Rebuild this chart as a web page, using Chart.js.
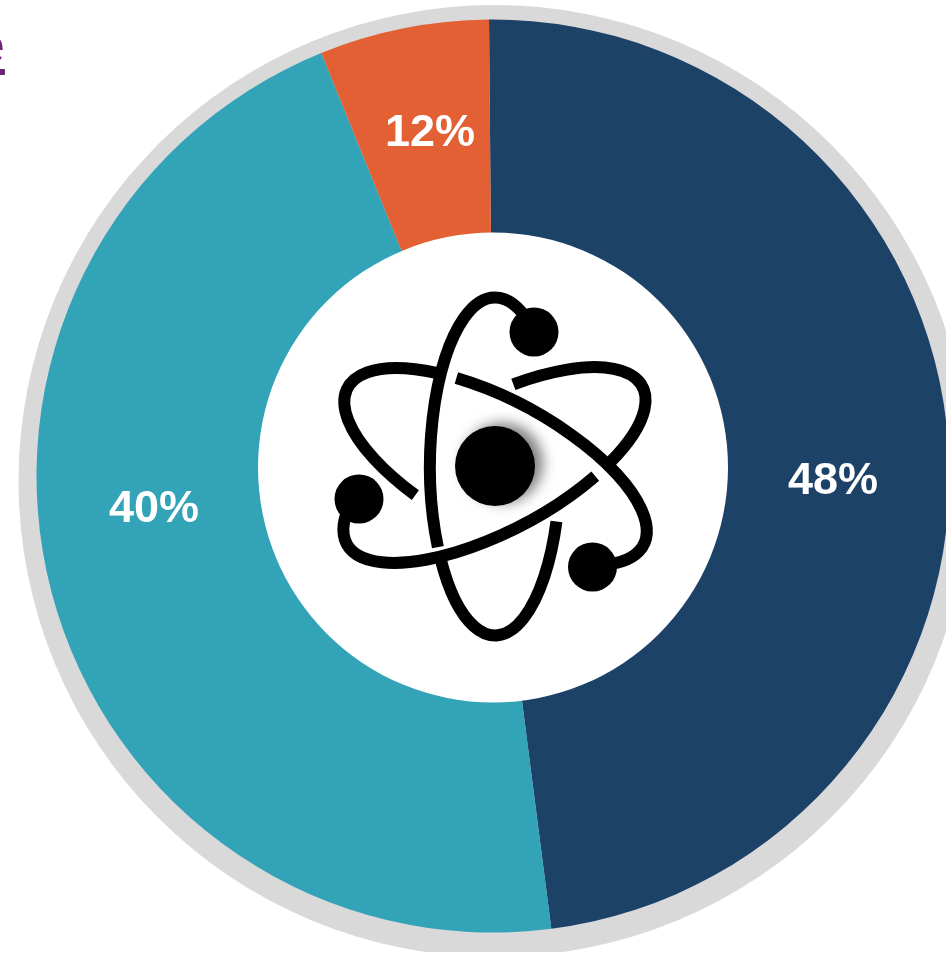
<!DOCTYPE html>
<html>
<head>
<meta charset="utf-8">
<style>
html,body{margin:0;padding:0;background:#fff;overflow:hidden}
#wrap{position:relative;width:946px;height:953px;overflow:hidden}
#c{position:absolute;left:0;top:0}
#cut{position:absolute;left:-24px;top:9px;font:52px "Liberation Sans",Arial,sans-serif;color:#6B2472;text-decoration:underline;text-decoration-thickness:6px;text-underline-offset:6px;line-height:72px}
</style>
</head>
<body>
<div id="wrap">
<canvas id="c" width="986" height="952" style="width:986px;height:952px"></canvas>
<span id="cut">e</span>
</div>
<script src="https://cdn.jsdelivr.net/npm/chart.js@4"></script>
<script>
const categories = ['Segment A', 'Segment B', 'Segment C'];
const sliceShares = [48.1, 45.9, 6.0];
const sliceLabels = ['48%', '40%', '12%'];
const sliceColors = ['#1D4268', '#33A3B7', '#E26033'];

const labelSpots = [[833, 482], [154, 510], [430, 134]];

const backdrop = {
  id: 'backdrop',
  beforeDatasetsDraw(chart) {
    const ctx = chart.ctx;
    ctx.save();
    ctx.fillStyle = '#D9D9D9';
    ctx.beginPath();
    ctx.arc(494.5, 481, 476, 0, Math.PI * 2);
    ctx.fill();
    ctx.restore();
  }
};

function orbit(ctx, cx, cy, rx, ry, rot, segs) {
  for (const [a, b] of segs) {
    ctx.beginPath();
    ctx.ellipse(cx, cy, rx, ry, rot * Math.PI / 180, a * Math.PI / 180, b * Math.PI / 180);
    ctx.stroke();
  }
}
function dot(ctx, x, y, r) {
  ctx.beginPath();
  ctx.arc(x, y, r, 0, Math.PI * 2);
  ctx.fill();
}

const overlay = {
  id: 'overlay',
  afterDatasetsDraw(chart) {
    const ctx = chart.ctx;
    ctx.save();
    ctx.fillStyle = '#fff';
    dot(ctx, 493, 467.5, 235);

    ctx.strokeStyle = '#000';
    ctx.fillStyle = '#000';
    ctx.lineWidth = 12;
    ctx.lineCap = 'butt';
    orbit(ctx, 495, 466.5, 65, 169, 0, [[19, 147], [151.5, 307]]);
    orbit(ctx, 495.5, 466.5, 67, 167.5, -62, [[-27, 129.5], [-160, -35]]);
    orbit(ctx, 494.5, 465, 66, 167.5, 62, [[-161, -38], [-30, 127]]);

    dot(ctx, 534, 332, 24.5);
    dot(ctx, 359, 499, 24.5);
    dot(ctx, 592.5, 567, 24.5);

    ctx.save();
    ctx.shadowColor = 'rgba(0,0,0,0.5)';
    ctx.shadowBlur = 13;
    ctx.shadowOffsetX = 8;
    ctx.shadowOffsetY = -3;
    dot(ctx, 495, 466, 40);
    ctx.restore();

    ctx.fillStyle = '#fff';
    ctx.font = 'bold 45px "Liberation Sans", Arial, sans-serif';
    ctx.textAlign = 'center';
    ctx.textBaseline = 'middle';
    sliceLabels.forEach((t, i) => ctx.fillText(t, labelSpots[i][0], labelSpots[i][1]));
    ctx.restore();
  }
};

new Chart(document.getElementById('c'), {
  type: 'doughnut',
  data: {
    labels: categories,
    datasets: [{ data: sliceShares, backgroundColor: sliceColors, borderWidth: 0 }]
  },
  options: {
    responsive: false,
    animation: false,
    rotation: -0.5,
    cutout: '40%',
    layout: { padding: { top: 19.5, bottom: 19.5, left: 36.5, right: 36.5 } },
    plugins: { legend: { display: false }, tooltip: { enabled: false } }
  },
  plugins: [backdrop, overlay]
});
</script>
</body>
</html>
